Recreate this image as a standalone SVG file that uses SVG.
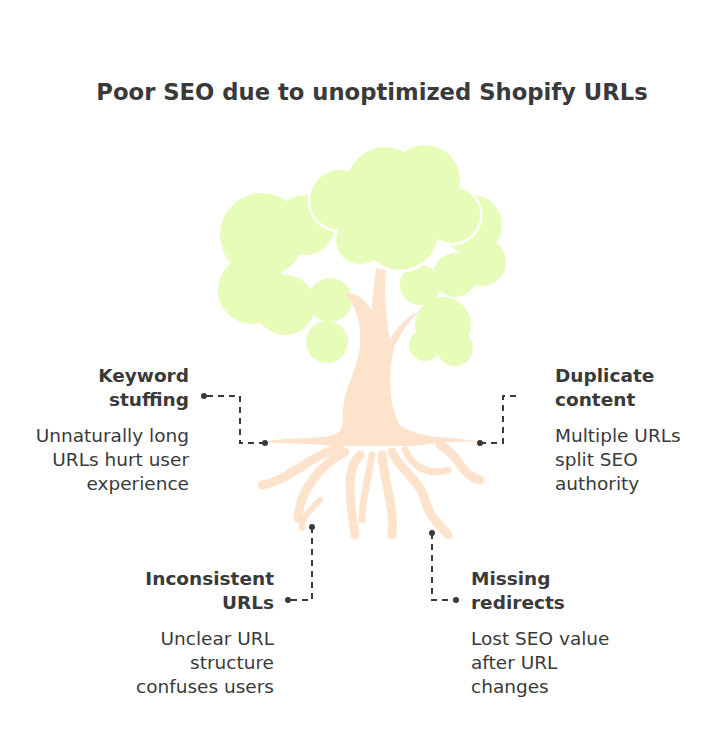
<svg xmlns="http://www.w3.org/2000/svg" width="720" height="744" viewBox="0 0 720 744">
<style>
.t{font-family:"DejaVu Sans","Open Sans",sans-serif;fill:#3a3a3a}
.h{font-weight:bold;font-size:18.5px}
.d{font-size:18.5px}
.c{fill:none;stroke:#3a3a3a;stroke-width:2;stroke-dasharray:6,5}
.g{fill:#e7fcb9}
.r{fill:none;stroke:#fee3cc;stroke-linecap:round}
</style>
<rect width="720" height="744" fill="#fff"/>
<text class="t" x="372" y="100" text-anchor="middle" font-size="22.7" font-weight="bold">Poor SEO due to unoptimized Shopify URLs</text>
<g id="tree">
<g class="g">
<circle cx="262" cy="235" r="42"/><circle cx="252" cy="290" r="34"/><circle cx="285" cy="305" r="30"/><circle cx="305" cy="225" r="30"/><circle cx="330" cy="300" r="22"/>
<circle cx="472" cy="225" r="30"/><circle cx="482" cy="262" r="24"/><circle cx="455" cy="275" r="22"/><circle cx="420" cy="285" r="20"/>
<circle cx="327" cy="342" r="21"/>
<circle cx="443" cy="325" r="28"/><circle cx="455" cy="348" r="18"/><circle cx="425" cy="345" r="16"/>
</g>
<path d="M345 295 C355 305 362 320 360 345 C358 370 345 385 343 410 C342 425 345 432 330 436 C305 440 285 436 262 443 C290 442 320 446 350 446 L410 446 C430 444 455 440 480 442 C455 436 420 440 400 425 C388 405 388 370 395 345 C405 325 415 315 420 310 C405 318 395 330 390 340 C385 310 384 290 386 270 L376 268 C374 285 372 300 372 310 C365 300 355 290 345 295 Z" fill="#fee3cc"/>
<g class="r">
<path d="M340 448 C310 455 290 480 262 485" stroke-width="9"/>
<path d="M345 452 C320 465 300 490 298 518" stroke-width="9"/>
<path d="M360 455 C345 470 350 500 355 535" stroke-width="9"/>
<path d="M372 455 C368 480 362 500 362 520" stroke-width="7"/>
<path d="M382 455 C385 485 395 510 392 535" stroke-width="9"/>
<path d="M392 452 C400 470 420 480 425 500 C428 515 440 525 448 535" stroke-width="9"/>
<path d="M405 450 C415 470 430 475 448 470" stroke-width="7"/>
<path d="M440 445 C460 455 460 475 480 480" stroke-width="9"/>
<path d="M330 450 C315 458 305 465 300 470" stroke-width="6"/>
<path d="M320 500 C310 510 300 520 302 528" stroke-width="6"/>
</g>
<g fill="none" stroke="#fff" stroke-width="5">
<circle cx="340" cy="200" r="30"/><circle cx="385" cy="185" r="38"/><circle cx="425" cy="180" r="35"/><circle cx="452" cy="215" r="28"/><circle cx="400" cy="232" r="38"/><circle cx="360" cy="240" r="24"/>
</g>
<g class="g">
<circle cx="340" cy="200" r="30"/><circle cx="385" cy="185" r="38"/><circle cx="425" cy="180" r="35"/><circle cx="452" cy="215" r="28"/><circle cx="400" cy="232" r="38"/><circle cx="360" cy="240" r="24"/>
</g>
</g>
<g id="connectors">
<path class="c" d="M265 443 H240 V396 H204"/>
<path class="c" d="M480 443 H503 V396 H517"/>
<path class="c" d="M312 527 V600 H288"/>
<path class="c" d="M432 533 V600 H456"/>
<g fill="#3a3a3a"><circle cx="265" cy="443" r="3"/><circle cx="204" cy="396" r="3"/><circle cx="480" cy="443" r="3"/><circle cx="312" cy="527" r="3"/><circle cx="288" cy="600" r="3"/><circle cx="432" cy="533" r="3"/><circle cx="456" cy="600" r="3"/></g>
</g>
<g id="keyword" class="t" text-anchor="end">
<text class="h t" x="189" y="382">Keyword</text><text class="h t" x="189" y="406">stuffing</text>
<text class="d t" x="189" y="442">Unnaturally long</text><text class="d t" x="189" y="466">URLs hurt user</text><text class="d t" x="189" y="490">experience</text>
</g>
<g id="duplicate" class="t">
<text class="h t" x="555" y="382">Duplicate</text><text class="h t" x="555" y="406">content</text>
<text class="d t" x="555" y="442">Multiple URLs</text><text class="d t" x="555" y="466">split SEO</text><text class="d t" x="555" y="490">authority</text>
</g>
<g id="inconsistent" class="t" text-anchor="end">
<text class="h t" x="274" y="585">Inconsistent</text><text class="h t" x="274" y="609">URLs</text>
<text class="d t" x="274" y="645">Unclear URL</text><text class="d t" x="274" y="669">structure</text><text class="d t" x="274" y="693">confuses users</text>
</g>
<g id="missing" class="t">
<text class="h t" x="471" y="585">Missing</text><text class="h t" x="471" y="609">redirects</text>
<text class="d t" x="471" y="645">Lost SEO value</text><text class="d t" x="471" y="669">after URL</text><text class="d t" x="471" y="693">changes</text>
</g>
</svg>
